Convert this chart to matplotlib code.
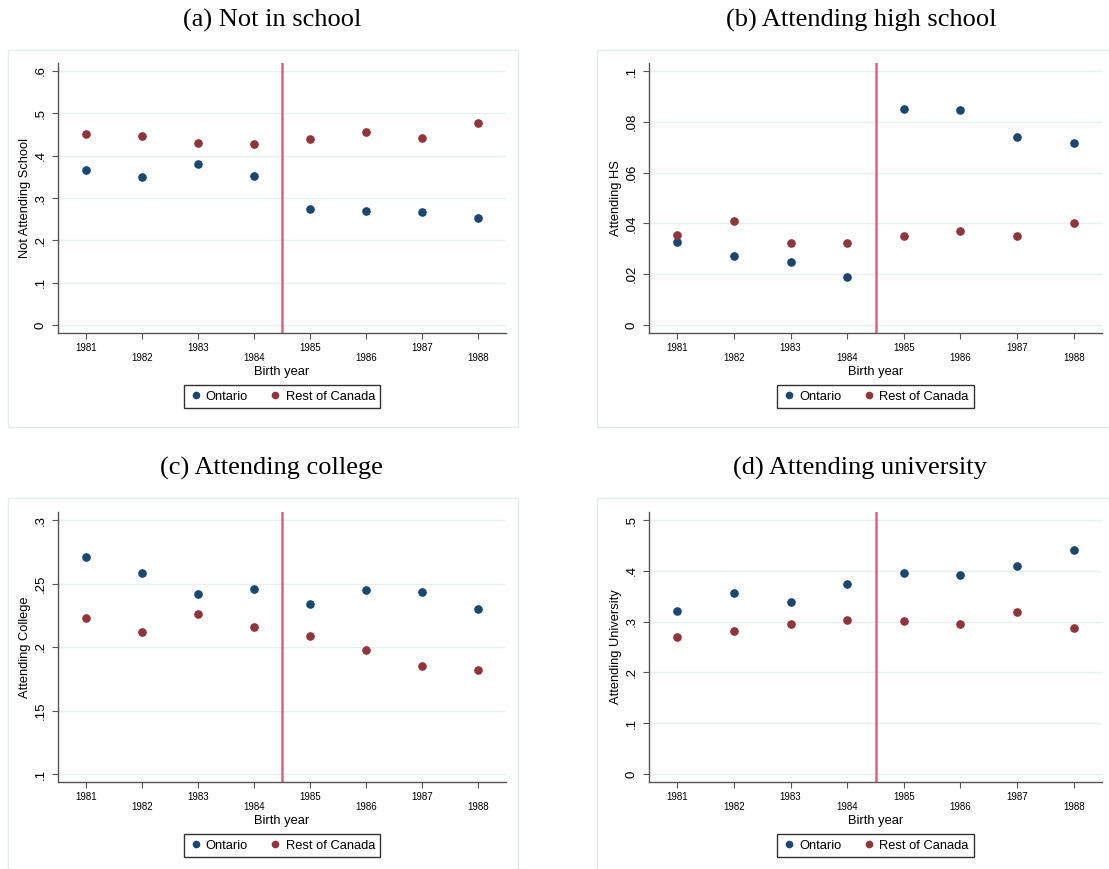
import matplotlib
matplotlib.use("Agg")
import matplotlib.pyplot as plt
from matplotlib.patches import Rectangle
from matplotlib.lines import Line2D

plt.rcParams["font.family"] = ["Liberation Sans", "DejaVu Sans"]

# années de naissance et séries par panneau
annees = [1981, 1982, 1983, 1984, 1985, 1986, 1987, 1988]

ontario_hors = [0.365, 0.349, 0.381, 0.351, 0.274, 0.270, 0.267, 0.252]
canada_hors = [0.451, 0.446, 0.429, 0.427, 0.440, 0.455, 0.441, 0.476]

ontario_hs = [0.0328, 0.0271, 0.0249, 0.0189, 0.0851, 0.0847, 0.0741, 0.0717]
canada_hs = [0.0353, 0.0410, 0.0322, 0.0322, 0.0350, 0.0370, 0.0350, 0.0400]

ontario_coll = [0.271, 0.258, 0.242, 0.246, 0.234, 0.245, 0.243, 0.230]
canada_coll = [0.223, 0.212, 0.226, 0.216, 0.209, 0.198, 0.185, 0.182]

ontario_univ = [0.321, 0.356, 0.338, 0.375, 0.396, 0.392, 0.410, 0.440]
canada_univ = [0.269, 0.281, 0.295, 0.304, 0.302, 0.296, 0.319, 0.287]

ticks_hors = [0, 0.1, 0.2, 0.3, 0.4, 0.5, 0.6]
labels_hors = ["0", ".1", ".2", ".3", ".4", ".5", ".6"]
ticks_hs = [0, 0.02, 0.04, 0.06, 0.08, 0.1]
labels_hs = ["0", ".02", ".04", ".06", ".08", ".1"]
ticks_coll = [0.1, 0.15, 0.2, 0.25, 0.3]
labels_coll = [".1", ".15", ".2", ".25", ".3"]
ticks_univ = [0, 0.1, 0.2, 0.3, 0.4, 0.5]
labels_univ = ["0", ".1", ".2", ".3", ".4", ".5"]

NAVY = "#1a476f"
MAROON = "#90353b"
ROSE = "#dc6482"
GRILLE = "#e9f0f0"
W, H = 1109, 869

fig = plt.figure(figsize=(W / 100, H / 100), dpi=100)
fig.patch.set_facecolor("white")


def boite(x0, y0, x1, y1):
    # cadre gris clair autour de chaque graphique
    fig.patches.append(Rectangle((x0 / W, 1 - y1 / H), (x1 - x0) / W, (y1 - y0) / H,
                                 transform=fig.transFigure, fill=False,
                                 edgecolor="#e4ecec", lw=1.0))


def panneau(l, t, r, b, ont, can, ticks, labels, ylabel, titre, tx, ty):
    ax = fig.add_axes([l / W, 1 - b / H, (r - l) / W, (b - t) / H])
    lo, hi = ticks[0], ticks[-1]
    pad = 8 / 254 * (hi - lo)
    ax.set_ylim(lo - pad, hi + pad)
    ax.set_xlim(1980.5, 1988.5)
    for y in ticks:
        ax.axhline(y, color=GRILLE, lw=1.0, zorder=0)
    ax.axvline(1984.5, color=ROSE, lw=1.8, zorder=1)
    ax.plot(annees, ont, "o", color=NAVY, ms=5.2, zorder=3)
    ax.plot(annees, can, "o", color=MAROON, ms=5.2, zorder=3)

    for s in ["top", "right"]:
        ax.spines[s].set_visible(False)
    for s in ["left", "bottom"]:
        ax.spines[s].set_color("#555555")
        ax.spines[s].set_linewidth(1.0)

    ax.set_yticks(ticks)
    ax.set_yticklabels(labels, rotation=90, va="center", fontsize=9.5)
    ax.set_xticks(annees)
    # étiquettes alternées sur deux lignes
    ax.set_xticklabels([str(a) if i % 2 == 0 else "\n" + str(a) for i, a in enumerate(annees)],
                       fontsize=7, linespacing=1.05)
    ax.tick_params(axis="both", direction="out", length=4, width=0.8, color="#555555")
    ax.tick_params(axis="y", pad=4)
    ax.tick_params(axis="x", pad=3)
    ax.set_ylabel(ylabel, fontsize=9.3, labelpad=3)
    ax.set_xlabel("Birth year", fontsize=9.3, labelpad=2)

    poignees = [Line2D([], [], ls="none", marker="o", ms=4.5, color=NAVY),
                Line2D([], [], ls="none", marker="o", ms=4.5, color=MAROON)]
    leg = ax.legend(poignees, ["Ontario", "Rest of Canada"], loc="upper center",
                    bbox_to_anchor=(0.5, -0.17), ncol=2, fontsize=9.3,
                    frameon=True, fancybox=False, edgecolor="black",
                    handletextpad=0.3, columnspacing=1.6, borderpad=0.4,
                    handlelength=1.0)
    leg.get_frame().set_linewidth(1.0)

    fig.text(tx / W, 1 - ty / H, titre, ha="center", va="center",
             fontsize=19, family="Liberation Serif")
    return ax


boite(8, 50, 518, 427)
boite(597, 50, 1112, 427)
boite(8, 498, 518, 872)
boite(597, 498, 1112, 872)

panneau(58, 63, 506, 333, ontario_hors, canada_hors, ticks_hors, labels_hors,
        "Not Attending School", "(a) Not in school", 272, 20)
panneau(649, 63, 1102, 333, ontario_hs, canada_hs, ticks_hs, labels_hs,
        "Attending HS", "(b) Attending high school", 861, 20)
panneau(58, 512, 506, 782, ontario_coll, canada_coll, ticks_coll, labels_coll,
        "Attending College", "(c) Attending college", 271, 468)
panneau(649, 512, 1102, 782, ontario_univ, canada_univ, ticks_univ, labels_univ,
        "Attending University", "(d) Attending university", 860, 468)

fig.savefig("out.png", dpi=100)
